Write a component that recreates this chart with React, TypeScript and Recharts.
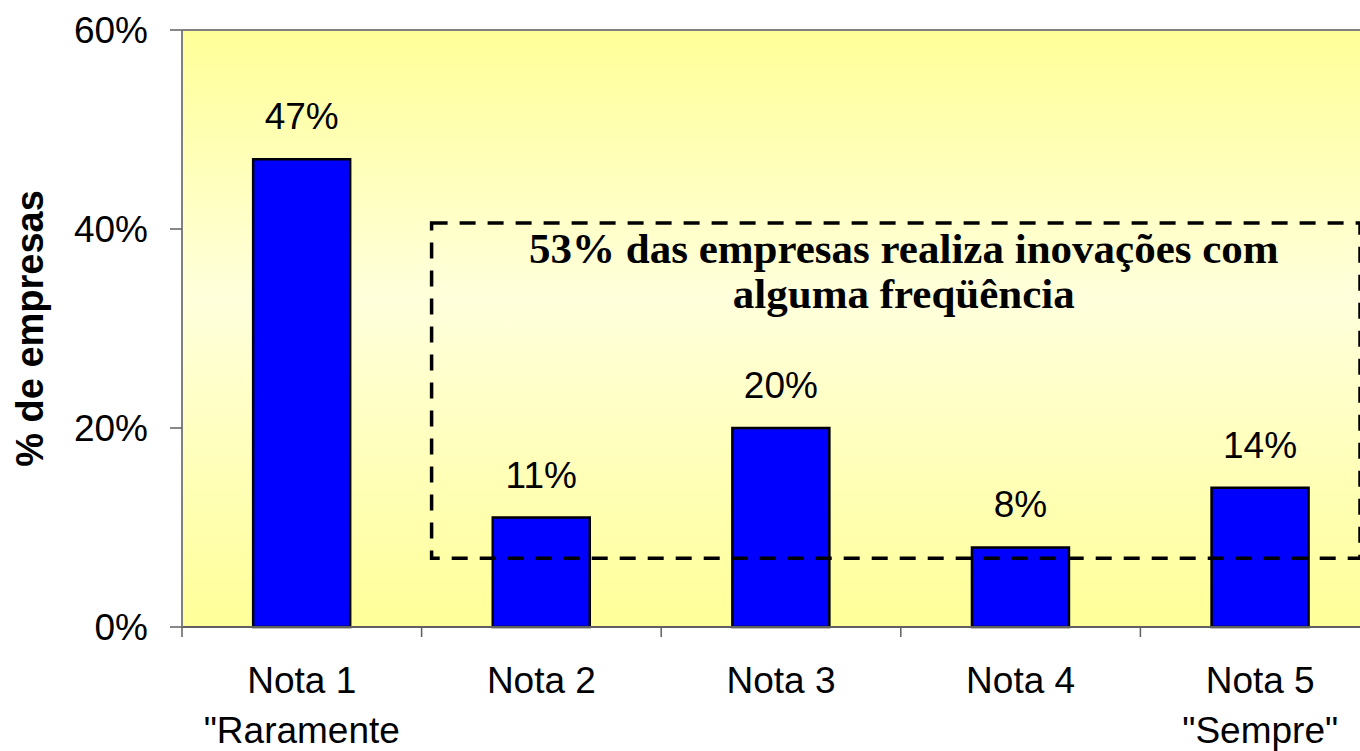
import React from 'react';
import { BarChart, Bar, XAxis, YAxis, CartesianGrid, LabelList, ReferenceArea, ReferenceLine } from 'recharts';

const categories = ['Nota 1', 'Nota 2', 'Nota 3', 'Nota 4', 'Nota 5'];
const subLabels = ['"Raramente', '', '', '', '"Sempre"'];
const values = [47, 11, 20, 8, 14];
const yTicks = [0, 20, 40, 60];
const boxLines = ['53% das empresas realiza inovações com', 'alguma freqüência'];
// annotation box: from category to category, percent range
const boxCats = ['Nota 2', 'Nota 5'];
const boxY = [6.9, 40.6];

const data = categories.map((c, i) => ({ name: c, value: values[i] }));

const CHART_W = 1400;
const CHART_H = 751;
const MARGIN = { top: 30, right: 20, bottom: 0, left: 0 };
const Y_W = 182;
const X_H = 124;
const BAND = (CHART_W - MARGIN.left - MARGIN.right - Y_W) / categories.length;

const SANS = '"Liberation Sans", Arial, sans-serif';
const SERIF = '"Liberation Serif", "Times New Roman", serif';

const XTick = (props: any) => {
  const { x, y, payload, index } = props;
  const i = typeof payload?.index === 'number' ? payload.index : index;
  const half = BAND / 2;
  return (
    <g>
      <line x1={x - half} x2={x - half} y1={y} y2={y + 10} stroke="#606060" strokeWidth={1.5} />
      {i === categories.length - 1 && (
        <line x1={x + half} x2={x + half} y1={y} y2={y + 10} stroke="#606060" strokeWidth={1.5} />
      )}
      <text x={x} y={y + 66} textAnchor="middle" fontFamily={SANS} fontSize={37} fill="#000">
        {payload.value}
      </text>
      {subLabels[i] && (
        <text x={x} y={y + 116} textAnchor="middle" fontFamily={SANS} fontSize={37} fill="#000">
          {subLabels[i]}
        </text>
      )}
    </g>
  );
};

const BarLabel = (props: any) => {
  const { x, y, width, value } = props;
  return (
    <text x={x + width / 2} y={y - 30} textAnchor="middle" fontFamily={SANS} fontSize={37} fill="#000">
      {value}%
    </text>
  );
};

const BoxShape = (props: any) => {
  const { x, y, width, height } = props;
  const left = x + 10;
  const right = x + width - 20;
  return (
    <rect
      x={left}
      y={y}
      width={right - left}
      height={height}
      fill="none"
      stroke="#000"
      strokeWidth={3.5}
      strokeDasharray="16 12"
    />
  );
};

const BoxLabel = (props: any) => {
  const vb = props.viewBox || {};
  const cx = vb.x + vb.width / 2 + 3;
  return (
    <g>
      {boxLines.map((t, i) => (
        <text
          key={i}
          x={cx}
          y={vb.y + 40 + i * 45}
          textAnchor="middle"
          fontFamily={SERIF}
          fontWeight="bold"
          fontSize={43}
          fill="#000"
        >
          {t}
        </text>
      ))}
    </g>
  );
};

const YLabel = (props: any) => {
  const vb = props.viewBox || {};
  const cy = vb.y + vb.height / 2;
  const x = 43;
  return (
    <text
      x={x}
      y={cy}
      transform={`rotate(-90, ${x}, ${cy})`}
      textAnchor="middle"
      fontFamily={SANS}
      fontWeight="bold"
      fontSize={38}
      fill="#000"
    >
      % de empresas
    </text>
  );
};

export default function App() {
  return (
    <div style={{ position: 'absolute', left: 0, top: 0, width: 1360, height: 751, overflow: 'hidden', background: '#fff' }}>
      <BarChart width={CHART_W} height={CHART_H} data={data} margin={MARGIN} barCategoryGap="29.7%">
        <defs>
          <linearGradient id="bgGrad" x1="0" y1="0" x2="0" y2="1">
            <stop offset="0%" stopColor="#FFFF99" />
            <stop offset="45%" stopColor="#FFFFDC" />
            <stop offset="100%" stopColor="#FFFF99" />
          </linearGradient>
        </defs>
        <CartesianGrid horizontal={false} vertical={false} fill="url(#bgGrad)" stroke="none" />
        <XAxis
          dataKey="name"
          height={X_H}
          tickLine={false}
          tickSize={0}
          tickMargin={0}
          axisLine={{ stroke: '#606060', strokeWidth: 2 }}
          tick={<XTick />}
          interval={0}
        />
        <YAxis
          width={Y_W}
          domain={[0, 60]}
          ticks={yTicks}
          tickFormatter={(v: number) => `${v}%`}
          tickSize={12}
          tickMargin={22}
          tickLine={{ stroke: '#606060', strokeWidth: 1.5 }}
          axisLine={{ stroke: '#808080', strokeWidth: 2 }}
          tick={{ fontFamily: SANS, fontSize: 37, fill: '#000' }}
          label={<YLabel />}
        />
        <ReferenceLine y={60} stroke="#808080" strokeWidth={2} />
        <Bar dataKey="value" fill="#0000FF" stroke="#000" strokeWidth={2.5} isAnimationActive={false}>
          <LabelList dataKey="value" content={<BarLabel />} />
        </Bar>
        <ReferenceArea
          x1={boxCats[0]}
          x2={boxCats[1]}
          y1={boxY[0]}
          y2={boxY[1]}
          ifOverflow="visible"
          zIndex={1500}
          shape={<BoxShape />}
          label={<BoxLabel />}
        />
      </BarChart>
    </div>
  );
}
